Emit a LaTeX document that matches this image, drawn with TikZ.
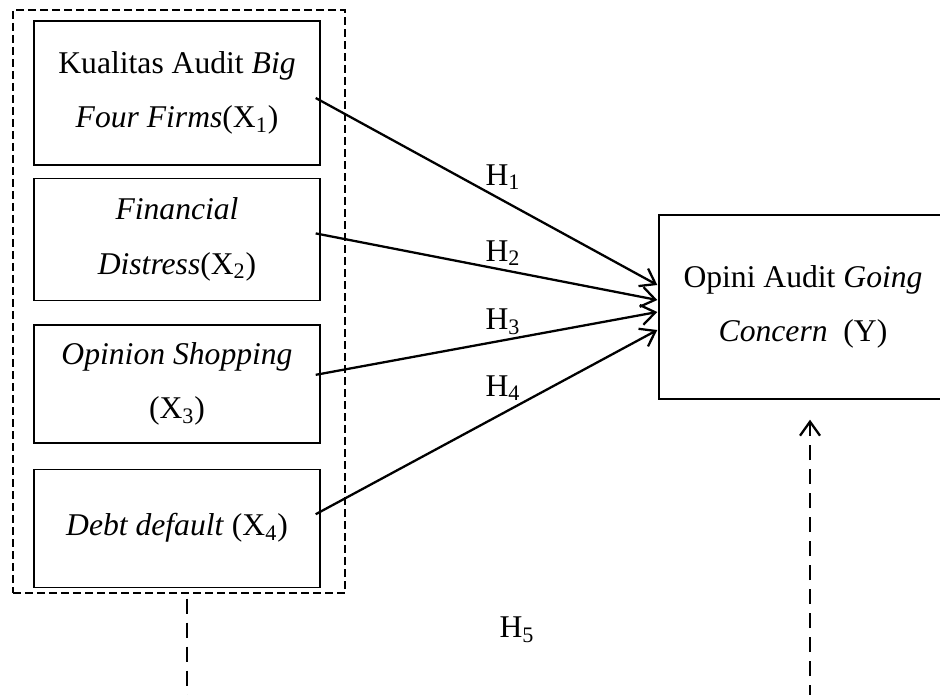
\documentclass[tikz,border=0pt]{standalone}
\usepackage{fontspec}
\setmainfont{Liberation Serif}
\usetikzlibrary{positioning}
\usetikzlibrary{arrows.meta}

\begin{document}
\begin{tikzpicture}[x=0.2mm,y=-0.2mm,
 font=\fontsize{18}{31}\selectfont,
 varbox/.style={draw,line width=0.8pt,minimum width=57.2mm,align=center,inner sep=0pt},
 grpbox/.style={draw,line width=0.8pt,dash pattern=on 1.6mm off 0.8mm,minimum width=66.4mm,minimum height=116.6mm,inner sep=0pt},
 hyparrow/.style={line width=1.3pt,-{Straight Barb[length=2.8mm,width=4mm]}},
 link/.style={line width=1.3pt,dash pattern=on 3mm off 1.8mm},
 hyp/.style={inner sep=0pt}]
 \useasboundingbox (0,0) rectangle (940,694);
 % independent variables
 \node[grpbox] (grp) at (179,301.5) {};
 \node[varbox,minimum height=28.8mm] (b1) at (177,93) {Kualitas Audit \textit{Big}\\\textit{Four Firms}(X\textsubscript{1})};
 \node[varbox,minimum height=24.4mm,below=2.4mm of b1] (b2) {\textit{Financial}\\\textit{Distress}(X\textsubscript{2})};
 \node[varbox,minimum height=23.6mm,below=4.6mm of b2] (b3) {\textit{Opinion Shopping}\\(X\textsubscript{3})};
 \node[varbox,minimum height=23.6mm,below=5mm of b3] (b4) {\textit{Debt default} (X\textsubscript{4})};
 % dependent variable
 \node[varbox,minimum width=57.6mm,minimum height=36.8mm] (y) at (803,307) {Opini Audit \textit{Going}\\\textit{Concern}~ (Y)};
 % hypotheses
 \draw[hyparrow] ([shift={(-5,5)}]b1.east) -- ([shift={(-1,-22)}]y.west);
 \draw[hyparrow] ([shift={(-5,-6)}]b2.east) -- ([shift={(-1,-7)}]y.west);
 \draw[hyparrow] ([shift={(-5,-9)}]b3.east) -- ([shift={(-1,5)}]y.west);
 \draw[hyparrow] ([shift={(-5,-14)}]b4.east) -- ([shift={(-1,23)}]y.west);
 \node[hyp] (h1) at (503,177) {H\textsubscript{1}};
 \node[hyp] (h2) at (503,253) {H\textsubscript{2}};
 \node[hyp] (h3) at (503,322) {H\textsubscript{3}};
 \node[hyp] (h4) at (503,388) {H\textsubscript{4}};
 \node[hyp] (h5) at (517,630) {H\textsubscript{5}};
 % simultaneous path
 \coordinate (lo) at (187,700);
 \coordinate (ro) at (810,700);
 \draw[link] ([shift={(8,5)}]grp.south) -- (lo);
 \draw[link,-{Straight Barb[length=2.8mm,width=4mm]}] (ro) -- ([shift={(7,20)}]y.south);
\end{tikzpicture}
\end{document}
